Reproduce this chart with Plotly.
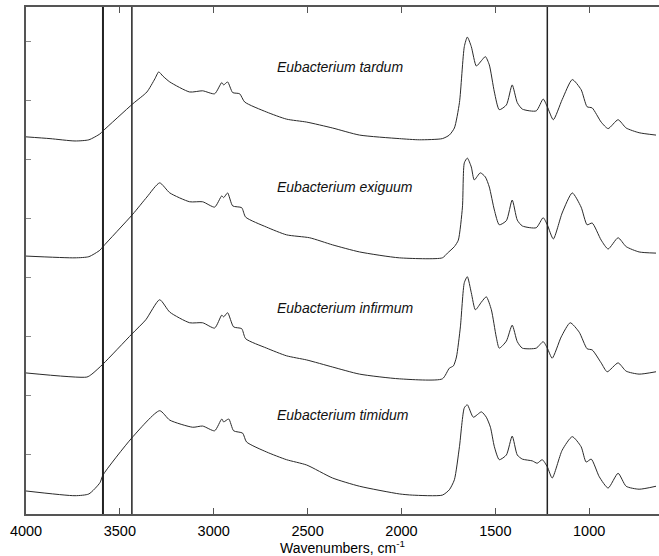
import plotly.graph_objects as go

# Spectra (wavenumber cm-1, relative absorbance before stacking)
wn_tardum = [4000, 3872, 3739, 3665, 3606, 3590, 3431, 3356, 3314, 3293, 3271, 3234, 3128, 3059, 2995, 2957, 2947, 2926, 2899, 2862, 2835, 2718, 2612, 2505, 2367, 2223, 2011, 1904, 1782, 1745, 1718, 1691, 1665, 1649, 1628, 1601, 1574, 1553, 1532, 1505, 1479, 1441, 1410, 1383, 1356, 1282, 1245, 1223, 1191, 1144, 1090, 1043, 1011, 984, 936, 899, 846, 803, 734, 644]
ab_tardum = [0.39, 0.36, 0.32, 0.34, 0.44, 0.49, 0.95, 1.15, 1.37, 1.49, 1.42, 1.32, 1.15, 1.17, 1.12, 1.31, 1.27, 1.32, 1.14, 1.12, 0.98, 0.81, 0.69, 0.64, 0.54, 0.42, 0.36, 0.34, 0.36, 0.42, 0.54, 0.97, 1.92, 2.08, 1.92, 1.59, 1.68, 1.75, 1.61, 1.15, 0.85, 0.93, 1.27, 0.97, 0.86, 0.83, 1.03, 0.90, 0.68, 1.02, 1.36, 1.19, 0.90, 0.88, 0.64, 0.53, 0.68, 0.54, 0.46, 0.42]

wn_exiguum = [4000, 3739, 3665, 3606, 3590, 3431, 3356, 3288, 3234, 3128, 3059, 2995, 2957, 2947, 2926, 2899, 2851, 2830, 2718, 2612, 2489, 2367, 2223, 2011, 1782, 1755, 1718, 1697, 1675, 1665, 1649, 1628, 1612, 1580, 1553, 1532, 1505, 1479, 1441, 1410, 1383, 1356, 1282, 1245, 1223, 1191, 1144, 1090, 1043, 1011, 984, 936, 899, 846, 803, 734, 644]
ab_exiguum = [0.37, 0.34, 0.36, 0.47, 0.53, 1.08, 1.37, 1.61, 1.44, 1.29, 1.29, 1.20, 1.39, 1.36, 1.44, 1.22, 1.19, 1.03, 0.86, 0.73, 0.68, 0.56, 0.44, 0.34, 0.34, 0.42, 0.53, 0.64, 1.20, 1.95, 2.03, 1.88, 1.66, 1.78, 1.71, 1.54, 1.15, 0.90, 0.97, 1.32, 0.98, 0.88, 0.85, 1.02, 0.90, 0.66, 1.10, 1.44, 1.20, 0.90, 0.93, 0.64, 0.49, 0.68, 0.53, 0.44, 0.42]

wn_infirmum = [4000, 3676, 3649, 3590, 3436, 3362, 3288, 3234, 3128, 3059, 2995, 2957, 2947, 2926, 2894, 2851, 2830, 2718, 2612, 2505, 2367, 2223, 2011, 1782, 1745, 1723, 1707, 1686, 1665, 1649, 1628, 1606, 1574, 1548, 1521, 1495, 1479, 1441, 1410, 1383, 1356, 1282, 1245, 1223, 1197, 1149, 1101, 1053, 1011, 984, 936, 904, 846, 803, 734, 644]
ab_infirmum = [0.39, 0.32, 0.37, 0.54, 1.05, 1.29, 1.63, 1.42, 1.24, 1.24, 1.15, 1.37, 1.34, 1.41, 1.17, 1.14, 0.97, 0.81, 0.68, 0.61, 0.49, 0.37, 0.29, 0.29, 0.47, 0.51, 0.66, 1.17, 1.92, 2.02, 1.75, 1.46, 1.59, 1.68, 1.46, 1.00, 0.81, 0.93, 1.20, 0.92, 0.81, 0.81, 0.92, 0.81, 0.64, 1.00, 1.24, 1.08, 0.80, 0.78, 0.56, 0.41, 0.56, 0.42, 0.37, 0.41]

wn_timidum = [4000, 3739, 3665, 3606, 3590, 3436, 3288, 3234, 3112, 3059, 2995, 2957, 2947, 2920, 2894, 2846, 2825, 2718, 2612, 2505, 2367, 2223, 2011, 1942, 1782, 1745, 1718, 1691, 1665, 1649, 1617, 1574, 1548, 1526, 1505, 1479, 1441, 1410, 1383, 1356, 1303, 1277, 1250, 1223, 1197, 1144, 1090, 1043, 1016, 989, 946, 899, 846, 803, 734, 644]
ab_timidum = [0.39, 0.31, 0.34, 0.53, 0.66, 1.29, 1.75, 1.59, 1.47, 1.49, 1.41, 1.61, 1.56, 1.61, 1.41, 1.37, 1.22, 1.05, 0.92, 0.83, 0.61, 0.47, 0.34, 0.32, 0.32, 0.41, 0.58, 1.14, 1.80, 1.85, 1.64, 1.73, 1.64, 1.47, 1.14, 0.92, 1.00, 1.32, 1.00, 0.93, 0.90, 0.86, 0.92, 0.80, 0.61, 1.08, 1.31, 1.14, 0.88, 0.93, 0.63, 0.44, 0.69, 0.47, 0.42, 0.47]

names = ["Eubacterium tardum", "Eubacterium exiguum", "Eubacterium infirmum", "Eubacterium timidum"]
offsets = [6, 4, 2, 0]
label_y = [7.58, 5.54, 3.49, 1.68]
marker_wn = [3590, 3436, 1223]
x_ticks = [4000, 3500, 3000, 2500, 2000, 1500, 1000]
y_ticks = [1, 2, 3, 4, 5, 6, 7, 8]

spectra = [(wn_tardum, ab_tardum), (wn_exiguum, ab_exiguum),
           (wn_infirmum, ab_infirmum), (wn_timidum, ab_timidum)]

fig = go.Figure()
for (wn, ab), off, name in zip(spectra, offsets, names):
    fig.add_trace(go.Scatter(
        x=wn, y=[v + off for v in ab], mode="lines", name=name,
        line=dict(color="#2a2a2a", width=1, shape="spline", smoothing=0.6),
        showlegend=False, hoverinfo="skip"))

widths = [2, 1.5, 1.5]
for w, lw in zip(marker_wn, widths):
    fig.add_shape(type="line", x0=w, x1=w, y0=0, y1=1, yref="paper", xref="x",
                  line=dict(color="#222", width=lw))

for name, ly in zip(names, label_y):
    fig.add_annotation(x=2675, y=ly, text="<i>" + name + "</i>", showarrow=False,
                       xanchor="left", yanchor="middle",
                       font=dict(family="Arial, Liberation Sans", size=14, color="#111"))

fig.update_layout(
    width=659, height=556,
    margin=dict(l=26, r=0, t=7, b=42, autoexpand=False),
    paper_bgcolor="white", plot_bgcolor="white",
    font=dict(family="Arial, Liberation Sans", size=14, color="#111"),
    xaxis=dict(range=[4000, 628], tickvals=x_ticks, ticks="inside", ticklen=6,
               tickcolor="#555", showline=True, linecolor="#555", linewidth=1.5,
               mirror="ticks", showgrid=False, zeroline=False, automargin=False,
               ticklabelstandoff=3, tickfont=dict(size=14.5, color="#000"),
               title=dict(text="Wavenumbers, cm<sup>-1</sup>", standoff=0,
                          font=dict(size=14, color="#000"))),
    yaxis=dict(range=[0, 8.59], tickvals=y_ticks, ticks="inside", ticklen=5,
               tickcolor="#888", showticklabels=False, showline=True,
               linecolor="#555", linewidth=1.5, showgrid=False, zeroline=False,
               automargin=False),
)

fig.write_html("out.html", config={"displayModeBar": False},
               post_script="document.body.style.margin='0px';")
